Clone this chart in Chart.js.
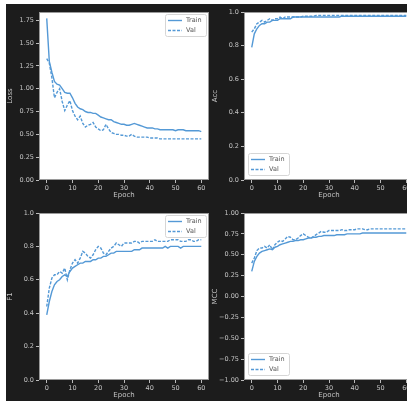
<!DOCTYPE html>
<html>
<head>
<meta charset="utf-8">
<script src="https://cdn.jsdelivr.net/npm/chart.js@4.4.1/dist/chart.umd.min.js"></script>
<style>
  html, body { margin: 0; padding: 0; background: #ffffff; overflow: hidden; width: 407px; height: 401px; }
  #frame { position: absolute; left: 6px; top: 4px; width: 401px; height: 397px; background: #1c1c1c; }
  canvas { position: absolute; }
</style>
</head>
<body>
<div id="frame"></div>
<canvas id="lossChart" width="205" height="196" style="left:6px;top:4px"></canvas>
<canvas id="accChart" width="205" height="196" style="left:211px;top:4px"></canvas>
<canvas id="f1Chart" width="205" height="195" style="left:6px;top:205px"></canvas>
<canvas id="mccChart" width="205" height="195" style="left:211px;top:205px"></canvas>
<script>
// epochs 0..60
const epochs = Array.from({ length: 61 }, (_, i) => i);
const xTicks = [0, 10, 20, 30, 40, 50, 60];

const lossTrain = [1.77, 1.30, 1.18, 1.08, 1.05, 1.04, 1.00, 0.96, 0.95, 0.95,
  0.90, 0.84, 0.80, 0.78, 0.77, 0.75, 0.74, 0.74, 0.73, 0.73,
  0.71, 0.69, 0.68, 0.67, 0.66, 0.66, 0.64, 0.63, 0.62, 0.61,
  0.61, 0.60, 0.60, 0.61, 0.62, 0.61, 0.60, 0.59, 0.58, 0.57,
  0.57, 0.57, 0.56, 0.56, 0.55, 0.55, 0.55, 0.55, 0.55, 0.55,
  0.54, 0.55, 0.55, 0.55, 0.54, 0.54, 0.54, 0.54, 0.54, 0.54, 0.53];
const lossVal = [1.33, 1.28, 1.12, 0.90, 0.96, 1.00, 0.86, 0.76, 0.82, 0.87,
  0.76, 0.70, 0.66, 0.70, 0.62, 0.58, 0.60, 0.61, 0.63, 0.58,
  0.56, 0.54, 0.55, 0.61, 0.56, 0.52, 0.51, 0.50, 0.50, 0.49,
  0.49, 0.48, 0.48, 0.50, 0.48, 0.47, 0.47, 0.47, 0.47, 0.47,
  0.46, 0.46, 0.46, 0.46, 0.45, 0.45, 0.45, 0.45, 0.45, 0.45,
  0.45, 0.45, 0.45, 0.45, 0.45, 0.45, 0.45, 0.45, 0.45, 0.45, 0.45];
const lossTicks = [0, 0.25, 0.5, 0.75, 1.0, 1.25, 1.5, 1.75];

const accTrain = [0.79, 0.87, 0.90, 0.92, 0.93, 0.93, 0.94, 0.94, 0.95, 0.95,
  0.95, 0.96, 0.96, 0.96, 0.96, 0.96, 0.97, 0.97, 0.97, 0.97,
  0.97, 0.97, 0.97, 0.97, 0.97, 0.97, 0.97, 0.97, 0.97, 0.97,
  0.97, 0.97, 0.97, 0.97, 0.97, 0.975, 0.975, 0.975, 0.975, 0.975,
  0.975, 0.975, 0.975, 0.975, 0.975, 0.975, 0.975, 0.975, 0.975, 0.975,
  0.975, 0.975, 0.975, 0.975, 0.975, 0.975, 0.975, 0.975, 0.975, 0.975, 0.975];
const accVal = [0.88, 0.90, 0.93, 0.94, 0.95, 0.94, 0.95, 0.96, 0.95, 0.96,
  0.96, 0.97, 0.96, 0.97, 0.97, 0.97, 0.97, 0.97, 0.97, 0.97,
  0.975, 0.975, 0.975, 0.975, 0.975, 0.98, 0.98, 0.98, 0.98, 0.98,
  0.98, 0.98, 0.98, 0.98, 0.98, 0.98, 0.98, 0.98, 0.98, 0.98,
  0.98, 0.98, 0.98, 0.98, 0.98, 0.98, 0.98, 0.98, 0.98, 0.98,
  0.98, 0.98, 0.98, 0.98, 0.98, 0.98, 0.98, 0.98, 0.98, 0.98, 0.98];
const accTicks = [0, 0.2, 0.4, 0.6, 0.8, 1.0];

const f1Train = [0.39, 0.47, 0.53, 0.57, 0.59, 0.60, 0.62, 0.63, 0.62, 0.65,
  0.67, 0.68, 0.69, 0.70, 0.70, 0.71, 0.71, 0.71, 0.72, 0.72,
  0.73, 0.73, 0.74, 0.74, 0.75, 0.76, 0.76, 0.77, 0.77, 0.77,
  0.77, 0.77, 0.77, 0.77, 0.78, 0.78, 0.78, 0.79, 0.79, 0.79,
  0.79, 0.79, 0.79, 0.79, 0.79, 0.79, 0.80, 0.79, 0.80, 0.80,
  0.80, 0.80, 0.79, 0.80, 0.80, 0.80, 0.80, 0.80, 0.80, 0.80, 0.80];
const f1Val = [0.44, 0.55, 0.61, 0.63, 0.63, 0.65, 0.64, 0.67, 0.60, 0.66,
  0.70, 0.72, 0.70, 0.73, 0.77, 0.76, 0.74, 0.73, 0.75, 0.78,
  0.80, 0.79, 0.76, 0.75, 0.77, 0.79, 0.80, 0.82, 0.81, 0.80,
  0.82, 0.82, 0.82, 0.82, 0.83, 0.83, 0.82, 0.83, 0.83, 0.83,
  0.83, 0.83, 0.84, 0.83, 0.83, 0.83, 0.83, 0.83, 0.84, 0.84,
  0.84, 0.84, 0.83, 0.83, 0.83, 0.84, 0.84, 0.83, 0.83, 0.84, 0.84];
const f1Ticks = [0, 0.2, 0.4, 0.6, 0.8, 1.0];

const mccTrain = [0.30, 0.42, 0.48, 0.52, 0.54, 0.55, 0.56, 0.57, 0.56, 0.59,
  0.60, 0.62, 0.63, 0.64, 0.65, 0.66, 0.66, 0.67, 0.67, 0.68,
  0.68, 0.69, 0.70, 0.70, 0.71, 0.71, 0.72, 0.72, 0.73, 0.73,
  0.73, 0.73, 0.73, 0.74, 0.74, 0.74, 0.74, 0.75, 0.75, 0.75,
  0.75, 0.75, 0.75, 0.76, 0.76, 0.76, 0.76, 0.76, 0.76, 0.76,
  0.76, 0.76, 0.76, 0.76, 0.76, 0.76, 0.76, 0.76, 0.76, 0.76, 0.76];
const mccVal = [0.40, 0.46, 0.55, 0.58, 0.58, 0.60, 0.58, 0.62, 0.56, 0.62,
  0.65, 0.67, 0.66, 0.69, 0.72, 0.71, 0.68, 0.68, 0.70, 0.73,
  0.75, 0.73, 0.71, 0.70, 0.72, 0.74, 0.76, 0.78, 0.77, 0.77,
  0.79, 0.79, 0.79, 0.79, 0.79, 0.80, 0.79, 0.79, 0.80, 0.80,
  0.80, 0.81, 0.81, 0.81, 0.80, 0.80, 0.81, 0.81, 0.81, 0.81,
  0.81, 0.81, 0.81, 0.81, 0.81, 0.81, 0.81, 0.81, 0.81, 0.81, 0.81];
const mccTicks = [-1, -0.75, -0.5, -0.25, 0, 0.25, 0.5, 0.75, 1.0];

const seriesNames = ['Train', 'Val'];

const FONT = '"DejaVu Sans", sans-serif';
const LINE = '#5499d6';
const TICK_TXT = '#c4c4c4';

// white axes box with thin spines, like matplotlib
const plotBox = {
  id: 'plotBox',
  beforeDraw(chart) {
    const { ctx, chartArea: a } = chart;
    ctx.save();
    ctx.fillStyle = '#ffffff';
    ctx.fillRect(a.left, a.top, a.right - a.left, a.bottom - a.top);
    ctx.restore();
  },
  afterDraw(chart) {
    const { ctx, chartArea: a } = chart;
    ctx.save();
    ctx.strokeStyle = '#9a9a9a';
    ctx.lineWidth = 1;
    ctx.strokeRect(a.left + 0.5, a.top + 0.5, a.right - a.left - 1, a.bottom - a.top - 1);
    ctx.restore();
  }
};

// matplotlib-ish legend box inside the axes
const boxLegend = {
  id: 'boxLegend',
  afterDatasetsDraw(chart, args, opts) {
    const { ctx, chartArea: a } = chart;
    const w = 41, h = 22;
    let x, y;
    if (opts.corner === 'ur') { x = a.right - 3 - w; y = a.top + 2; }
    else { x = a.left + 4; y = a.bottom - 5 - h; }
    ctx.save();
    ctx.fillStyle = 'rgba(255,255,255,0.85)';
    ctx.strokeStyle = '#d6d6d6';
    ctx.lineWidth = 1;
    ctx.beginPath();
    ctx.roundRect(x + 0.5, y + 0.5, w, h, 2);
    ctx.fill();
    ctx.stroke();
    chart.data.datasets.forEach((ds, i) => {
      const ry = y + 6.5 + i * 10;
      ctx.strokeStyle = ds.borderColor;
      ctx.lineWidth = ds.borderWidth;
      ctx.setLineDash(ds.borderDash || []);
      ctx.beginPath();
      ctx.moveTo(x + 3, ry);
      ctx.lineTo(x + 17, ry);
      ctx.stroke();
      ctx.setLineDash([]);
      ctx.fillStyle = '#555';
      ctx.font = '6.5px ' + FONT;
      ctx.textBaseline = 'middle';
      ctx.fillText(ds.label, x + 21, ry);
    });
    ctx.restore();
  }
};

function pts(values) {
  return values.map((v, i) => ({ x: epochs[i], y: v }));
}

function fmt(v, dec) {
  return v.toFixed(dec).replace('-', '\u2212');
}

function makeChart(id, train, val, yTicks, dec, yTitle, corner) {
  const ctx = document.getElementById(id).getContext('2d');
  return new Chart(ctx, {
    type: 'line',
    data: {
      datasets: [
        { label: seriesNames[0], data: pts(train), borderColor: LINE, borderWidth: 1.4, pointRadius: 0, tension: 0 },
        { label: seriesNames[1], data: pts(val), borderColor: LINE, borderWidth: 1.4, borderDash: [3, 1.5], pointRadius: 0, tension: 0 }
      ]
    },
    options: {
      responsive: false,
      animation: false,
      layout: { padding: { top: 8, right: 2, bottom: 0, left: 0 } },
      plugins: {
        legend: { display: false },
        tooltip: { enabled: false },
        boxLegend: { corner: corner }
      },
      scales: {
        x: {
          type: 'linear',
          min: -3,
          max: 63,
          afterBuildTicks: (s) => { s.ticks = xTicks.map(v => ({ value: v })); },
          afterFit: (s) => { s.height = 20; },
          grid: { drawOnChartArea: false, drawTicks: true, tickLength: 3, color: '#bbbbbb' },
          border: { display: false },
          ticks: { color: TICK_TXT, font: { family: FONT, size: 6.5 }, padding: 1, maxRotation: 0, callback: (v) => String(v) },
          title: { display: true, text: 'Epoch', color: TICK_TXT, font: { family: FONT, size: 7 }, padding: { top: 0, bottom: 1 } }
        },
        y: {
          min: yTicks[0],
          max: yTicks === lossTicks ? 1.84 : yTicks[yTicks.length - 1],
          afterBuildTicks: (s) => { s.ticks = yTicks.map(v => ({ value: v })); },
          afterFit: (s) => { s.width = 33; },
          grid: { drawOnChartArea: false, drawTicks: true, tickLength: 3, color: '#bbbbbb' },
          border: { display: false },
          ticks: { color: TICK_TXT, font: { family: FONT, size: 6.5 }, padding: 2, callback: (v) => fmt(v, dec) },
          title: { display: true, text: yTitle, color: TICK_TXT, font: { family: FONT, size: 7 }, padding: { top: 0, bottom: 0 } }
        }
      }
    },
    plugins: [plotBox, boxLegend]
  });
}

makeChart('lossChart', lossTrain, lossVal, lossTicks, 2, 'Loss', 'ur');
makeChart('accChart', accTrain, accVal, accTicks, 1, 'Acc', 'll');
makeChart('f1Chart', f1Train, f1Val, f1Ticks, 1, 'F1', 'ur');
makeChart('mccChart', mccTrain, mccVal, mccTicks, 2, 'MCC', 'll');
</script>
</body>
</html>
